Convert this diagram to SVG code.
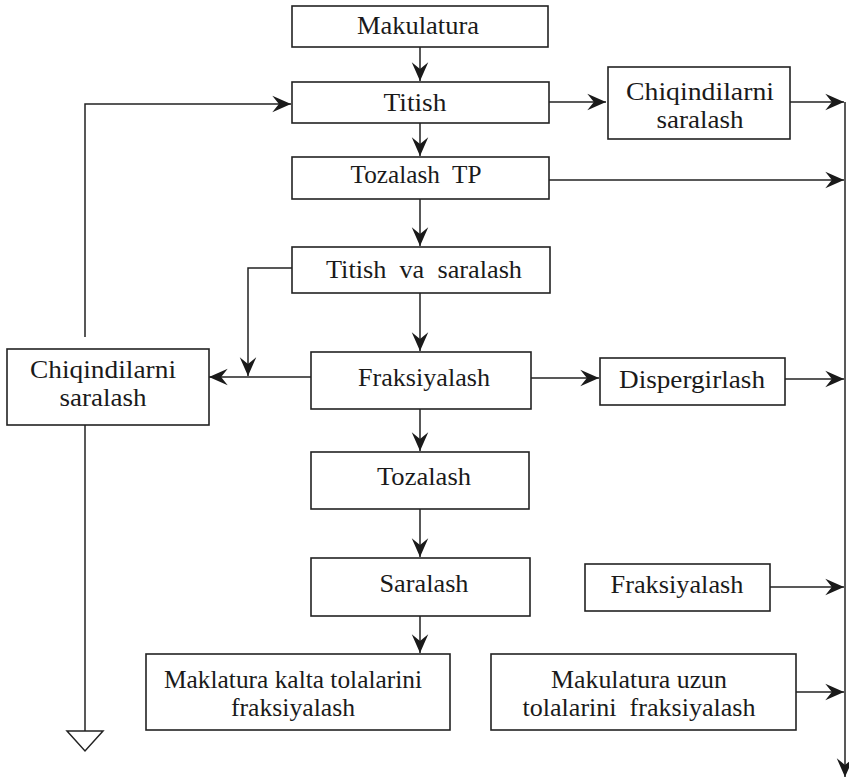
<svg xmlns="http://www.w3.org/2000/svg" width="849" height="780" viewBox="0 0 849 780">
  <style>
    .box { fill: #fff; stroke: #222; stroke-width: 1.6; }
    .ln { fill: none; stroke: #222; stroke-width: 1.5; }
    .arr { marker-end: url(#head); }
    text { font-family: "Liberation Serif", "Times New Roman", serif; font-size: 26px; fill: #1a1a1a; text-anchor: middle; }
  </style>
  <defs>
    <marker id="head" markerUnits="userSpaceOnUse" markerWidth="22" markerHeight="20" viewBox="-18 -9 20 18" refX="0" refY="0" orient="auto">
      <path d="M0,0 L-17,-7.5 L-11,0 L-17,7.5 Z" fill="#1a1a1a"/>
    </marker>
  </defs>
  <rect width="849" height="780" fill="#fff"/>

  <!-- connectors -->
  <g id="connectors">
    <line class="ln arr" x1="420" y1="47" x2="420" y2="81"/>
    <polyline class="ln arr" points="85,337 85,104 291,104"/>
    <line class="ln arr" x1="549" y1="102" x2="606" y2="102"/>
    <line class="ln arr" x1="790" y1="102" x2="844" y2="102"/>
    <line class="ln arr" x1="420" y1="123" x2="420" y2="156"/>
    <line class="ln arr" x1="549" y1="180" x2="844" y2="180"/>
    <line class="ln arr" x1="420" y1="199" x2="420" y2="246"/>
    <polyline class="ln arr" points="292,268 248,268 248,376"/>
    <line class="ln arr" x1="420" y1="293" x2="420" y2="351"/>
    <line class="ln arr" x1="311" y1="377" x2="209" y2="377"/>
    <line class="ln arr" x1="531" y1="378" x2="599" y2="378"/>
    <line class="ln arr" x1="785" y1="379" x2="844" y2="379"/>
    <line class="ln arr" x1="420" y1="409" x2="420" y2="451"/>
    <line class="ln arr" x1="420" y1="509" x2="420" y2="557"/>
    <line class="ln arr" x1="770" y1="587" x2="844" y2="587"/>
    <line class="ln arr" x1="420" y1="616" x2="420" y2="653"/>
    <line class="ln arr" x1="796" y1="692" x2="844" y2="692"/>
    <line class="ln arr" x1="845" y1="102" x2="845" y2="777"/>
    <line class="ln" x1="85" y1="425" x2="85" y2="731"/>
    <polygon class="ln" points="67,731 103,731 85,751"/>
  </g>

  <g id="makulatura">
    <rect class="box" x="292" y="6" width="256" height="41"/>
    <text x="418" y="34" textLength="122" lengthAdjust="spacingAndGlyphs">Makulatura</text>
  </g>
  <g id="titish">
    <rect class="box" x="292" y="82" width="257" height="41"/>
    <text x="415" y="111" textLength="63" lengthAdjust="spacingAndGlyphs">Titish</text>
  </g>
  <g id="chiqindilarni-top">
    <rect class="box" x="608" y="67" width="182" height="72"/>
    <text x="700" y="100" textLength="148" lengthAdjust="spacingAndGlyphs">Chiqindilarni</text>
    <text x="700" y="128" textLength="87" lengthAdjust="spacingAndGlyphs">saralash</text>
  </g>
  <g id="tozalash-tp">
    <rect class="box" x="292" y="157" width="257" height="42"/>
    <text x="416" y="183" textLength="131" lengthAdjust="spacingAndGlyphs" xml:space="preserve">Tozalash  TP</text>
  </g>
  <g id="titish-va-saralash">
    <rect class="box" x="292" y="247" width="258" height="46"/>
    <text x="424" y="278" textLength="196" lengthAdjust="spacingAndGlyphs" xml:space="preserve">Titish  va  saralash</text>
  </g>
  <g id="chiqindilarni-left">
    <rect class="box" x="7" y="349" width="202" height="76"/>
    <text x="103" y="378" textLength="146" lengthAdjust="spacingAndGlyphs">Chiqindilarni</text>
    <text x="103" y="406" textLength="87" lengthAdjust="spacingAndGlyphs">saralash</text>
  </g>
  <g id="fraksiyalash">
    <rect class="box" x="311" y="352" width="220" height="57"/>
    <text x="424" y="386" textLength="132" lengthAdjust="spacingAndGlyphs">Fraksiyalash</text>
  </g>
  <g id="dispergirlash">
    <rect class="box" x="600" y="358" width="185" height="47"/>
    <text x="692" y="388" textLength="146" lengthAdjust="spacingAndGlyphs">Dispergirlash</text>
  </g>
  <g id="tozalash">
    <rect class="box" x="311" y="452" width="218" height="57"/>
    <text x="424" y="485" textLength="94" lengthAdjust="spacingAndGlyphs">Tozalash</text>
  </g>
  <g id="saralash">
    <rect class="box" x="311" y="558" width="219" height="58"/>
    <text x="424" y="592" textLength="89" lengthAdjust="spacingAndGlyphs">Saralash</text>
  </g>
  <g id="fraksiyalash-right">
    <rect class="box" x="585" y="564" width="185" height="47"/>
    <text x="677" y="593" textLength="133" lengthAdjust="spacingAndGlyphs">Fraksiyalash</text>
  </g>
  <g id="kalta-tolalar">
    <rect class="box" x="146" y="654" width="304" height="76"/>
    <text x="293" y="688" textLength="258" lengthAdjust="spacingAndGlyphs">Maklatura kalta tolalarini</text>
    <text x="293" y="716" textLength="124" lengthAdjust="spacingAndGlyphs">fraksiyalash</text>
  </g>
  <g id="uzun-tolalar">
    <rect class="box" x="491" y="654" width="305" height="76"/>
    <text x="639" y="688" textLength="176" lengthAdjust="spacingAndGlyphs">Makulatura uzun</text>
    <text x="639" y="716" textLength="233" lengthAdjust="spacingAndGlyphs" xml:space="preserve">tolalarini  fraksiyalash</text>
  </g>
</svg>
